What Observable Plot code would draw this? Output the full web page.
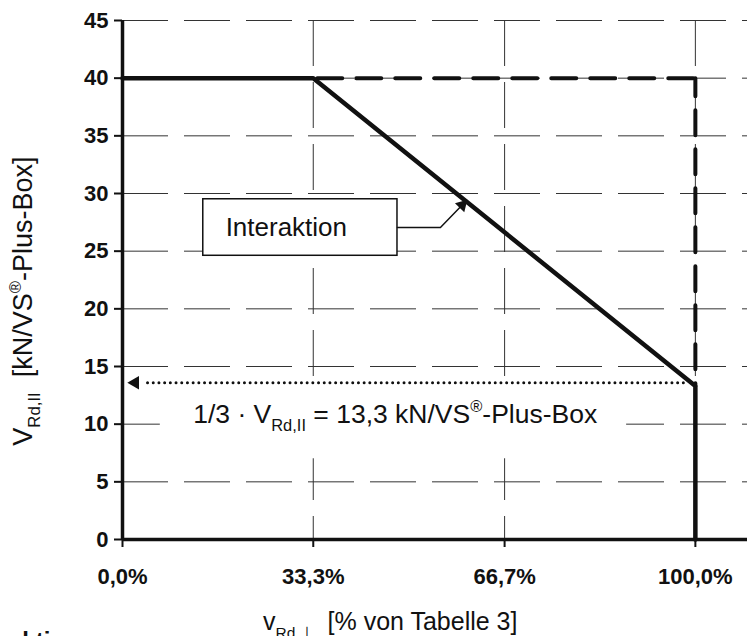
<!DOCTYPE html>
<html><head><meta charset="utf-8">
<script src="https://cdn.jsdelivr.net/npm/d3@7"></script>
<script src="https://cdn.jsdelivr.net/npm/@observablehq/plot@0.6"></script>
<style>
html,body{margin:0;padding:0;background:#fff;overflow:hidden;}
#wrap{position:relative;width:747px;height:636px;overflow:hidden;}
#caption{position:absolute;left:-43px;top:629px;font:bold 24px "Liberation Sans",Arial,sans-serif;line-height:24px;white-space:nowrap;color:#111;}
svg text{white-space:pre;}
</style></head><body><div id="wrap"><div id="chart"></div><div id="caption">Interaktion</div></div>
<script>
// ---- data ----
const yTicks = [0, 5, 10, 15, 20, 25, 30, 35, 40, 45];
const yGrid = [5, 10, 15, 20, 25, 30, 35, 40, 45];
const xTicks = [0, 33.3, 66.7, 100];
const xTickLabels = ["0,0%", "33,3%", "66,7%", "100,0%"];
const xGrid = [33.3, 66.7, 100];
// interaction curve V_Rd,II vs v_Rd,⊥
const curveX = [0, 33.3, 100, 100];
const curveY = [40, 40, 13.3, 0];
// dashed limit lines
const limitHX = [33.3, 100], limitHY = [40, 40];
const limitVX = [100, 100], limitVY = [40, 13.3];
// dotted arrow to the y axis
const dotX = [97.9, 3.5], dotY = [13.6, 13.6];
const dotHead = [{x: 2.2, y: 13.6}];
// "Interaktion" callout
const boxLabel = "Interaktion";
const box = [{x1: 14.1, x2: 48.0, y1: 24.6, y2: 29.5}];
const boxText = [{x: 28.6, y: 27.06, t: boxLabel}];
const connX = [48.0, 55.5, 59.3], connY = [27.06, 27.06, 29.0];
const connHead = [{x: 59.3, y: 29.0}];
// note
const noteText = [{x: 47.6, y: 10.8, t: "1/3 · V_{Rd,II} = 13,3 kN/VS^{®}-Plus-Box"}];
const noteBg = [{x1: 6.6, x2: 88, y1: 7.0, y2: 12.8}];
const yLabel = "V_{Rd,II}  [kN/VS^{®}-Plus-Box]";
const xLabel = "v_{Rd,⊥}  [% von Tabelle 3]";

const ink = "#111";
const toPts = (xs, ys) => xs.map((x, i) => ({x, y: ys[i]}));

const plot = Plot.plot({
  width: 747, height: 636,
  marginLeft: 122, marginRight: 0, marginTop: 20, marginBottom: 97,
  x: {domain: [0, 109.1], axis: null},
  y: {domain: [0, 45], axis: null},
  style: {fontFamily: "'Liberation Sans', Arial, sans-serif", background: "white", color: ink, fontWeight: "bold", fontSize: "22px"},
  marks: [
    Plot.ruleY(yGrid, {stroke: "#333", strokeWidth: 1, strokeDasharray: "46,16"}),
    Plot.ruleX(xGrid, {y1: 45, y2: 0, stroke: "#333", strokeWidth: 1, strokeDasharray: "46,16"}),
    Plot.rect(noteBg, {x1: "x1", x2: "x2", y1: "y1", y2: "y2", fill: "white"}),
    Plot.rect(box, {x1: "x1", x2: "x2", y1: "y1", y2: "y2", fill: "white", stroke: ink, strokeWidth: 1.5}),
    Plot.text(boxText, {x: "x", y: "y", text: "t", fontSize: 26, fontWeight: "normal", fill: ink}),
    Plot.line(toPts(connX, connY), {x: "x", y: "y", stroke: ink, strokeWidth: 1.5}),
    Plot.dot(connHead, {x: "x", y: "y", symbol: "triangle", r: 4.8, fill: ink, rotate: 44}),
    Plot.line(toPts(dotX, dotY), {x: "x", y: "y", stroke: ink, strokeWidth: 3, strokeDasharray: "0,5.7", strokeLinecap: "round"}),
    Plot.dot(dotHead, {x: "x", y: "y", symbol: "triangle", r: 5, fill: ink, rotate: -90}),
    Plot.line(toPts(limitHX, limitHY), {x: "x", y: "y", stroke: ink, strokeWidth: 4, strokeDasharray: "25,14", strokeDashoffset: -4}),
    Plot.line(toPts(limitVX, limitVY), {x: "x", y: "y", stroke: ink, strokeWidth: 4, strokeDasharray: "25,14", strokeDashoffset: 7}),
    Plot.line(toPts(curveX, curveY), {x: "x", y: "y", stroke: ink, strokeWidth: 4.5, strokeLinejoin: "miter"}),
    Plot.text(noteText, {x: "x", y: "y", text: "t", fontSize: 26.5, fontWeight: "normal", fill: ink}),
    Plot.axisY(yTicks, {tickSize: 8, tickPadding: 6, strokeWidth: 2, fontSize: 22, fontWeight: "bold"}),
    Plot.axisX(xTicks, {tickSize: 8, tickPadding: 21, strokeWidth: 2, fontSize: 22, fontWeight: "bold",
      tickFormat: d => xTickLabels[xTicks.indexOf(d)]}),
    Plot.ruleX([0], {y1: 0, y2: 45, stroke: ink, strokeWidth: 3.5}),
    Plot.ruleY([0], {stroke: ink, strokeWidth: 3.5})
  ]
});
document.getElementById("chart").appendChild(plot);

function richify(el, fs) {
  const s = el.textContent;
  const re = /([_^])\{([^}]*)\}/g;
  if (!/([_^])\{/.test(s)) return;
  while (el.firstChild) el.removeChild(el.firstChild);
  let last = 0, m, shift = 0;
  const add = (txt, kind) => {
    const t = document.createElementNS("http://www.w3.org/2000/svg", "tspan");
    const target = kind === "sub" ? 0.3 * fs : kind === "sup" ? -0.42 * fs : 0;
    const dy = target - shift; shift = target;
    if (dy) t.setAttribute("dy", dy);
    if (kind !== "n") t.setAttribute("font-size", 0.62 * fs);
    t.textContent = txt;
    el.appendChild(t);
  };
  while ((m = re.exec(s))) {
    if (m.index > last) add(s.slice(last, m.index), "n");
    add(m[2], m[1] === "_" ? "sub" : "sup");
    last = re.lastIndex;
  }
  if (last < s.length) add(s.slice(last), "n");
}

const svg = d3.select(plot);
svg.selectAll("text").each(function() {
  if (/([_^])\{/.test(this.textContent)) richify(this, parseFloat(getComputedStyle(this).fontSize));
});
const yl = svg.append("text").attr("transform", "translate(32,301) rotate(-90)")
  .attr("text-anchor", "middle").attr("font-size", 27).attr("font-weight", "normal").attr("fill", ink)
  .text(yLabel);
richify(yl.node(), 27);
const xl = svg.append("text").attr("x", 263).attr("y", 630)
  .attr("text-anchor", "start").attr("font-size", 25).attr("font-weight", "normal").attr("fill", ink)
  .text(xLabel);
richify(xl.node(), 25);
</script></body></html>
